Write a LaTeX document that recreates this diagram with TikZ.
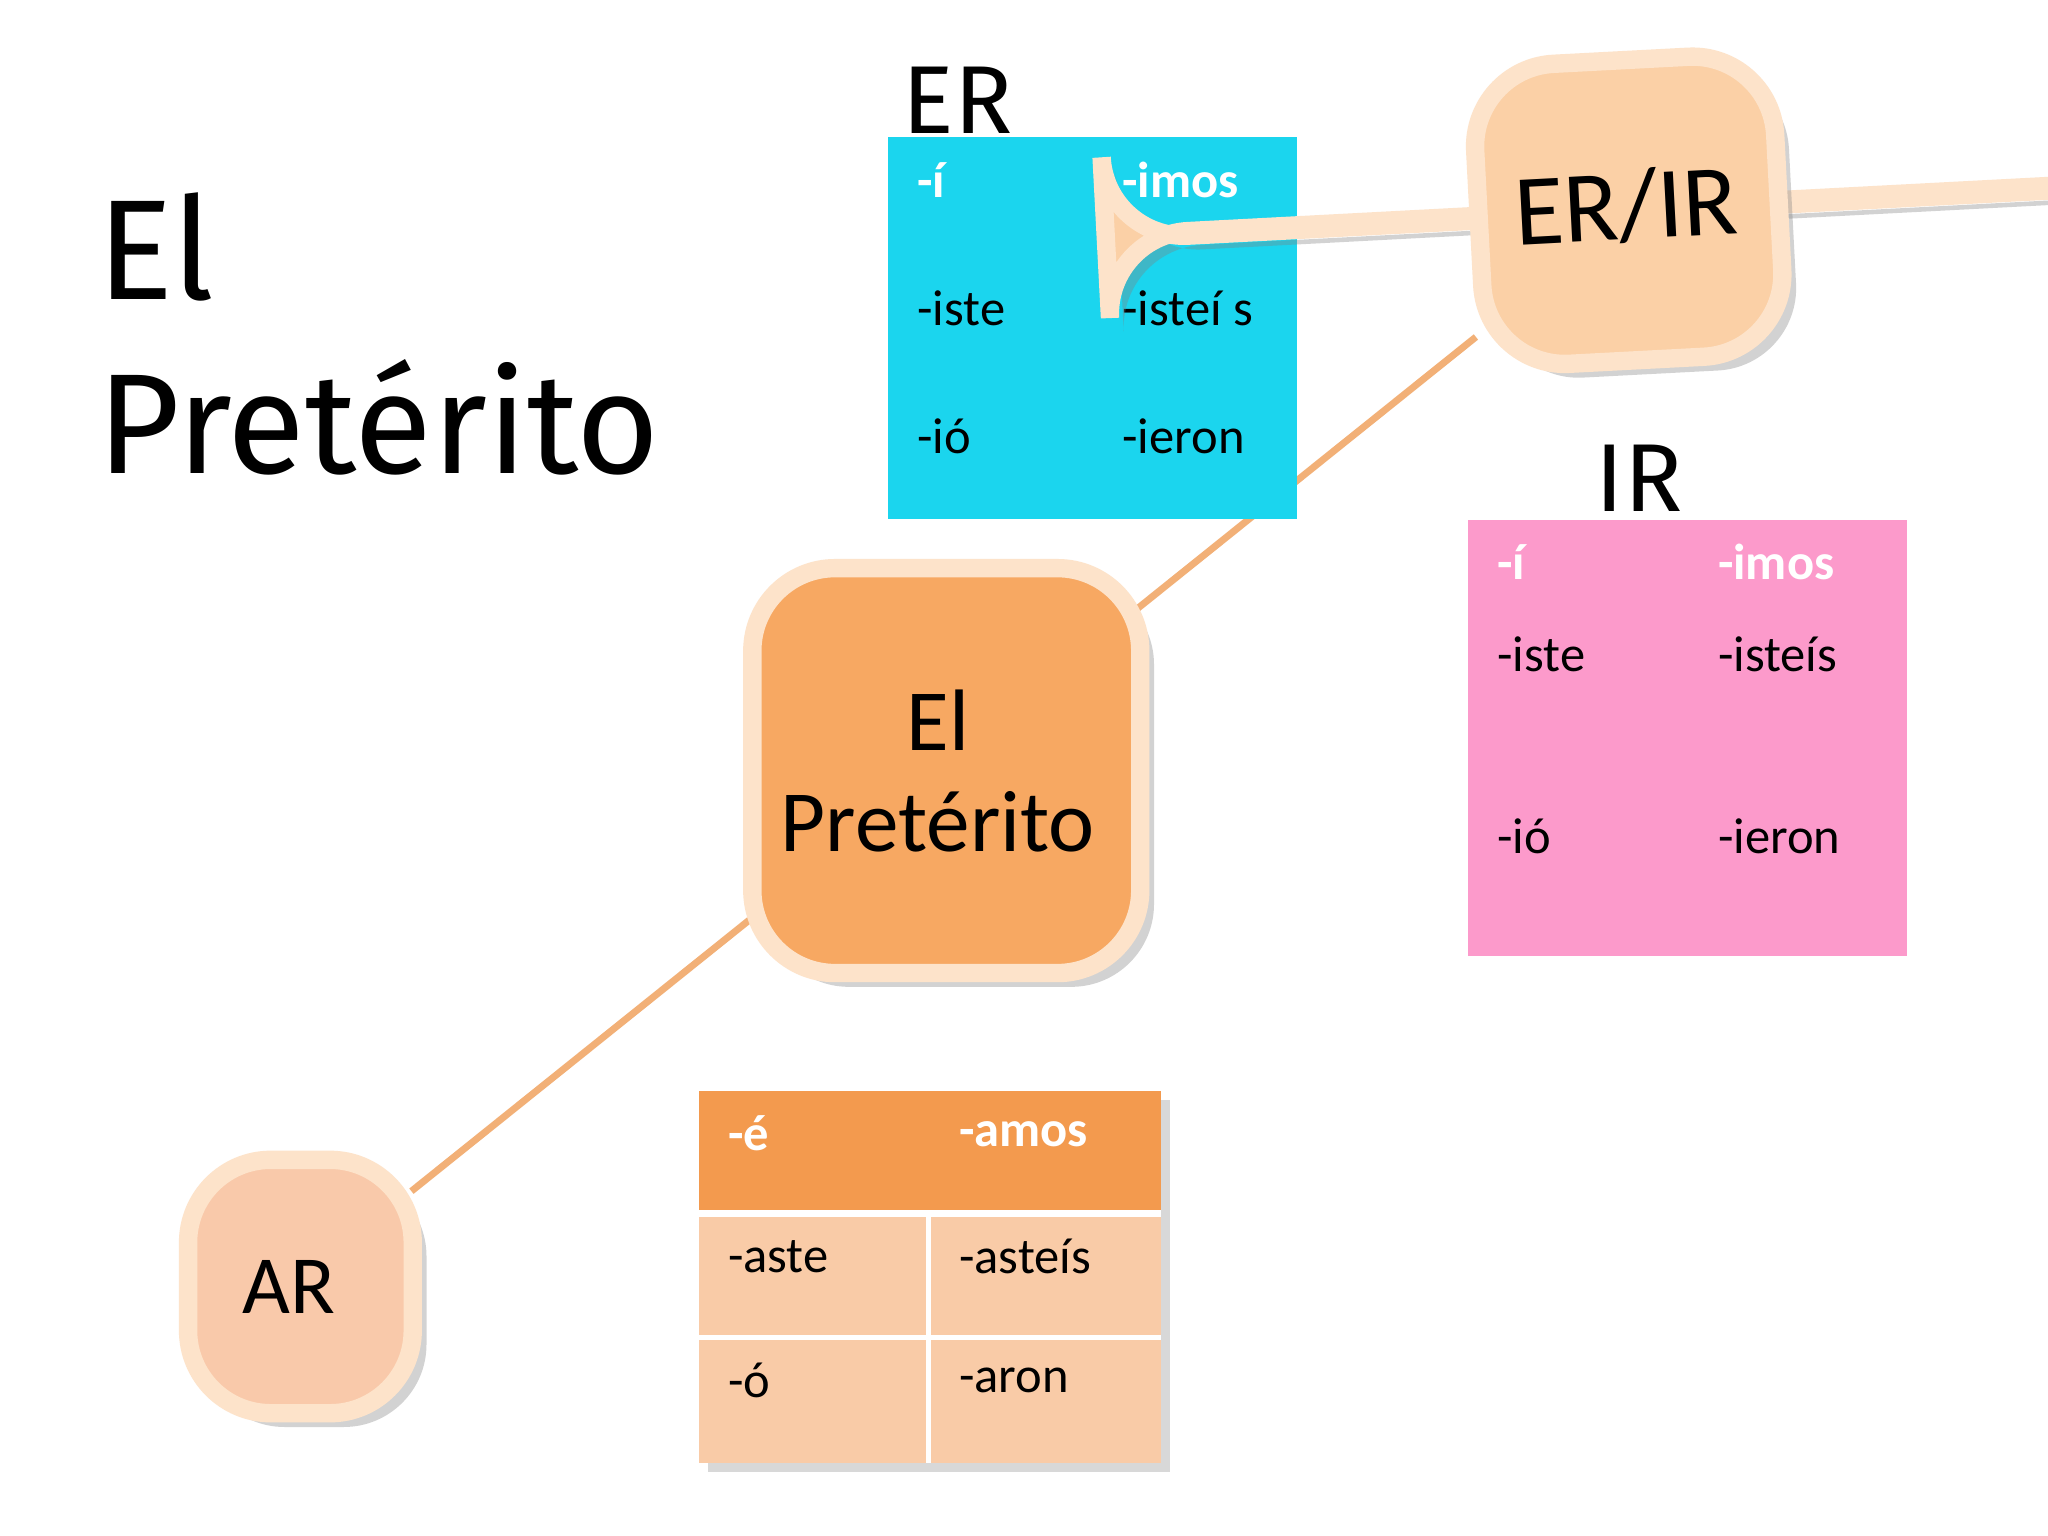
\documentclass[tikz,border=0pt]{standalone}
\usepackage{fontspec}
\setmainfont{Carlito}
\newfontfamily\hand{Fira Sans}
\usetikzlibrary{shadows}
\definecolor{cy}{HTML}{1BD5EE}
\definecolor{pk}{HTML}{FC9ACB}
\definecolor{ln}{HTML}{F2B077}
\definecolor{hd}{HTML}{F39A4E}
\definecolor{rw}{HTML}{F9CBA7}
\definecolor{bx}{HTML}{F7A862}
\definecolor{lt}{HTML}{FBD0A6}
\definecolor{ar}{HTML}{F9C9AA}
\tikzset{
 rbox/.style={draw=lt!60!white,line width=4pt,rounded corners=18pt,drop shadow={opacity=0.35,shadow xshift=3pt,shadow yshift=-3pt}},
 wt/.style={anchor=west,text=white,font=\bfseries\fontsize{11}{13}\selectfont},
 bt/.style={anchor=west,text=black,font=\fontsize{11}{13}\selectfont},
}
\begin{document}
\begin{tikzpicture}[x=0.01cm,y=-0.01cm]
\useasboundingbox (0,0) rectangle (1568,1176);
\fill[white] (0,0) rectangle (1568,1176);
% title
\node[anchor=north west,align=left,font=\hand\fontsize{31}{38}\selectfont] (title) at (62,135) {El\\Pretérito};
% connector
\coordinate (a1) at (315,912);
\coordinate (a2) at (1130,258);
\draw[ln,line width=1.5pt] (a1) -- (a2);
% ER table
\node[font=\hand\fontsize{21}{24}\selectfont] (erl) at (733,77) {ER};
\fill[cy] (680,105) rectangle (993,397);
\node[wt] (e1) at (690,138) {-í}; \node[wt] (e2) at (847,138) {-imos};
\node[bt] (e3) at (690,236) {-iste}; \node[bt] (e4) at (847,236) {-isteí s};
\node[bt] (e5) at (690,334) {-ió}; \node[bt] (e6) at (847,334) {-ieron};
% IR table
\node[font=\hand\fontsize{21}{24}\selectfont] (irl) at (1255,366) {IR};
\fill[pk] (1124,398) rectangle (1460,732);
\node[wt] (i1) at (1134,430) {-í}; \node[wt] (i2) at (1303,430) {-imos};
\node[bt] (i3) at (1134,501) {-iste}; \node[bt] (i4) at (1303,501) {-isteís};
\node[bt] (i5) at (1134,640) {-ió}; \node[bt] (i6) at (1303,640) {-ieron};
% boxes
\node[rbox,fill=lt,minimum width=228pt*0.2845/0.2845*0.01cm/0.01cm,inner sep=0pt,rotate=3] (erir) at (1247,161) {};
\path[rbox,fill=lt,rotate around={3:(1247,161)}] (1132,46) rectangle (1362,276);
\node[rotate=3,font=\fontsize{22}{26}\selectfont] (erirt) at (1245,158) {ER/IR};
\path[rbox,fill=bx] (576,435) rectangle (873,745);
\node[align=center,font=\fontsize{19}{22}\selectfont] (cen) at (718,590) {El\\Pretérito};
\path[rbox,fill=ar] (144,888) rectangle (316,1082);
\node[font=\fontsize{18}{22}\selectfont] (arn) at (221,985) {AR};
% AR table
\fill[hd,drop shadow={opacity=0.3,shadow xshift=2pt,shadow yshift=-2pt}] (535,835) rectangle (889,1120);
\fill[hd] (535,835) rectangle (889,928);
\fill[rw] (535,930) rectangle (889,1120);
\draw[white,line width=1.5pt] (535,929) -- (889,929);
\draw[white,line width=1pt] (535,1024) -- (889,1024);
\draw[white,line width=1pt] (711,930) -- (711,1120);
\node[wt] (a1t) at (545,868) {-é}; \node[wt] (a2t) at (722,868) {-amos};
\node[bt] (a3t) at (545,962) {-aste}; \node[bt] (a4t) at (722,962) {-asteís};
\node[bt] (a5t) at (545,1057) {-ó}; \node[bt] (a6t) at (722,1057) {-aron};
\end{tikzpicture}
\end{document}
